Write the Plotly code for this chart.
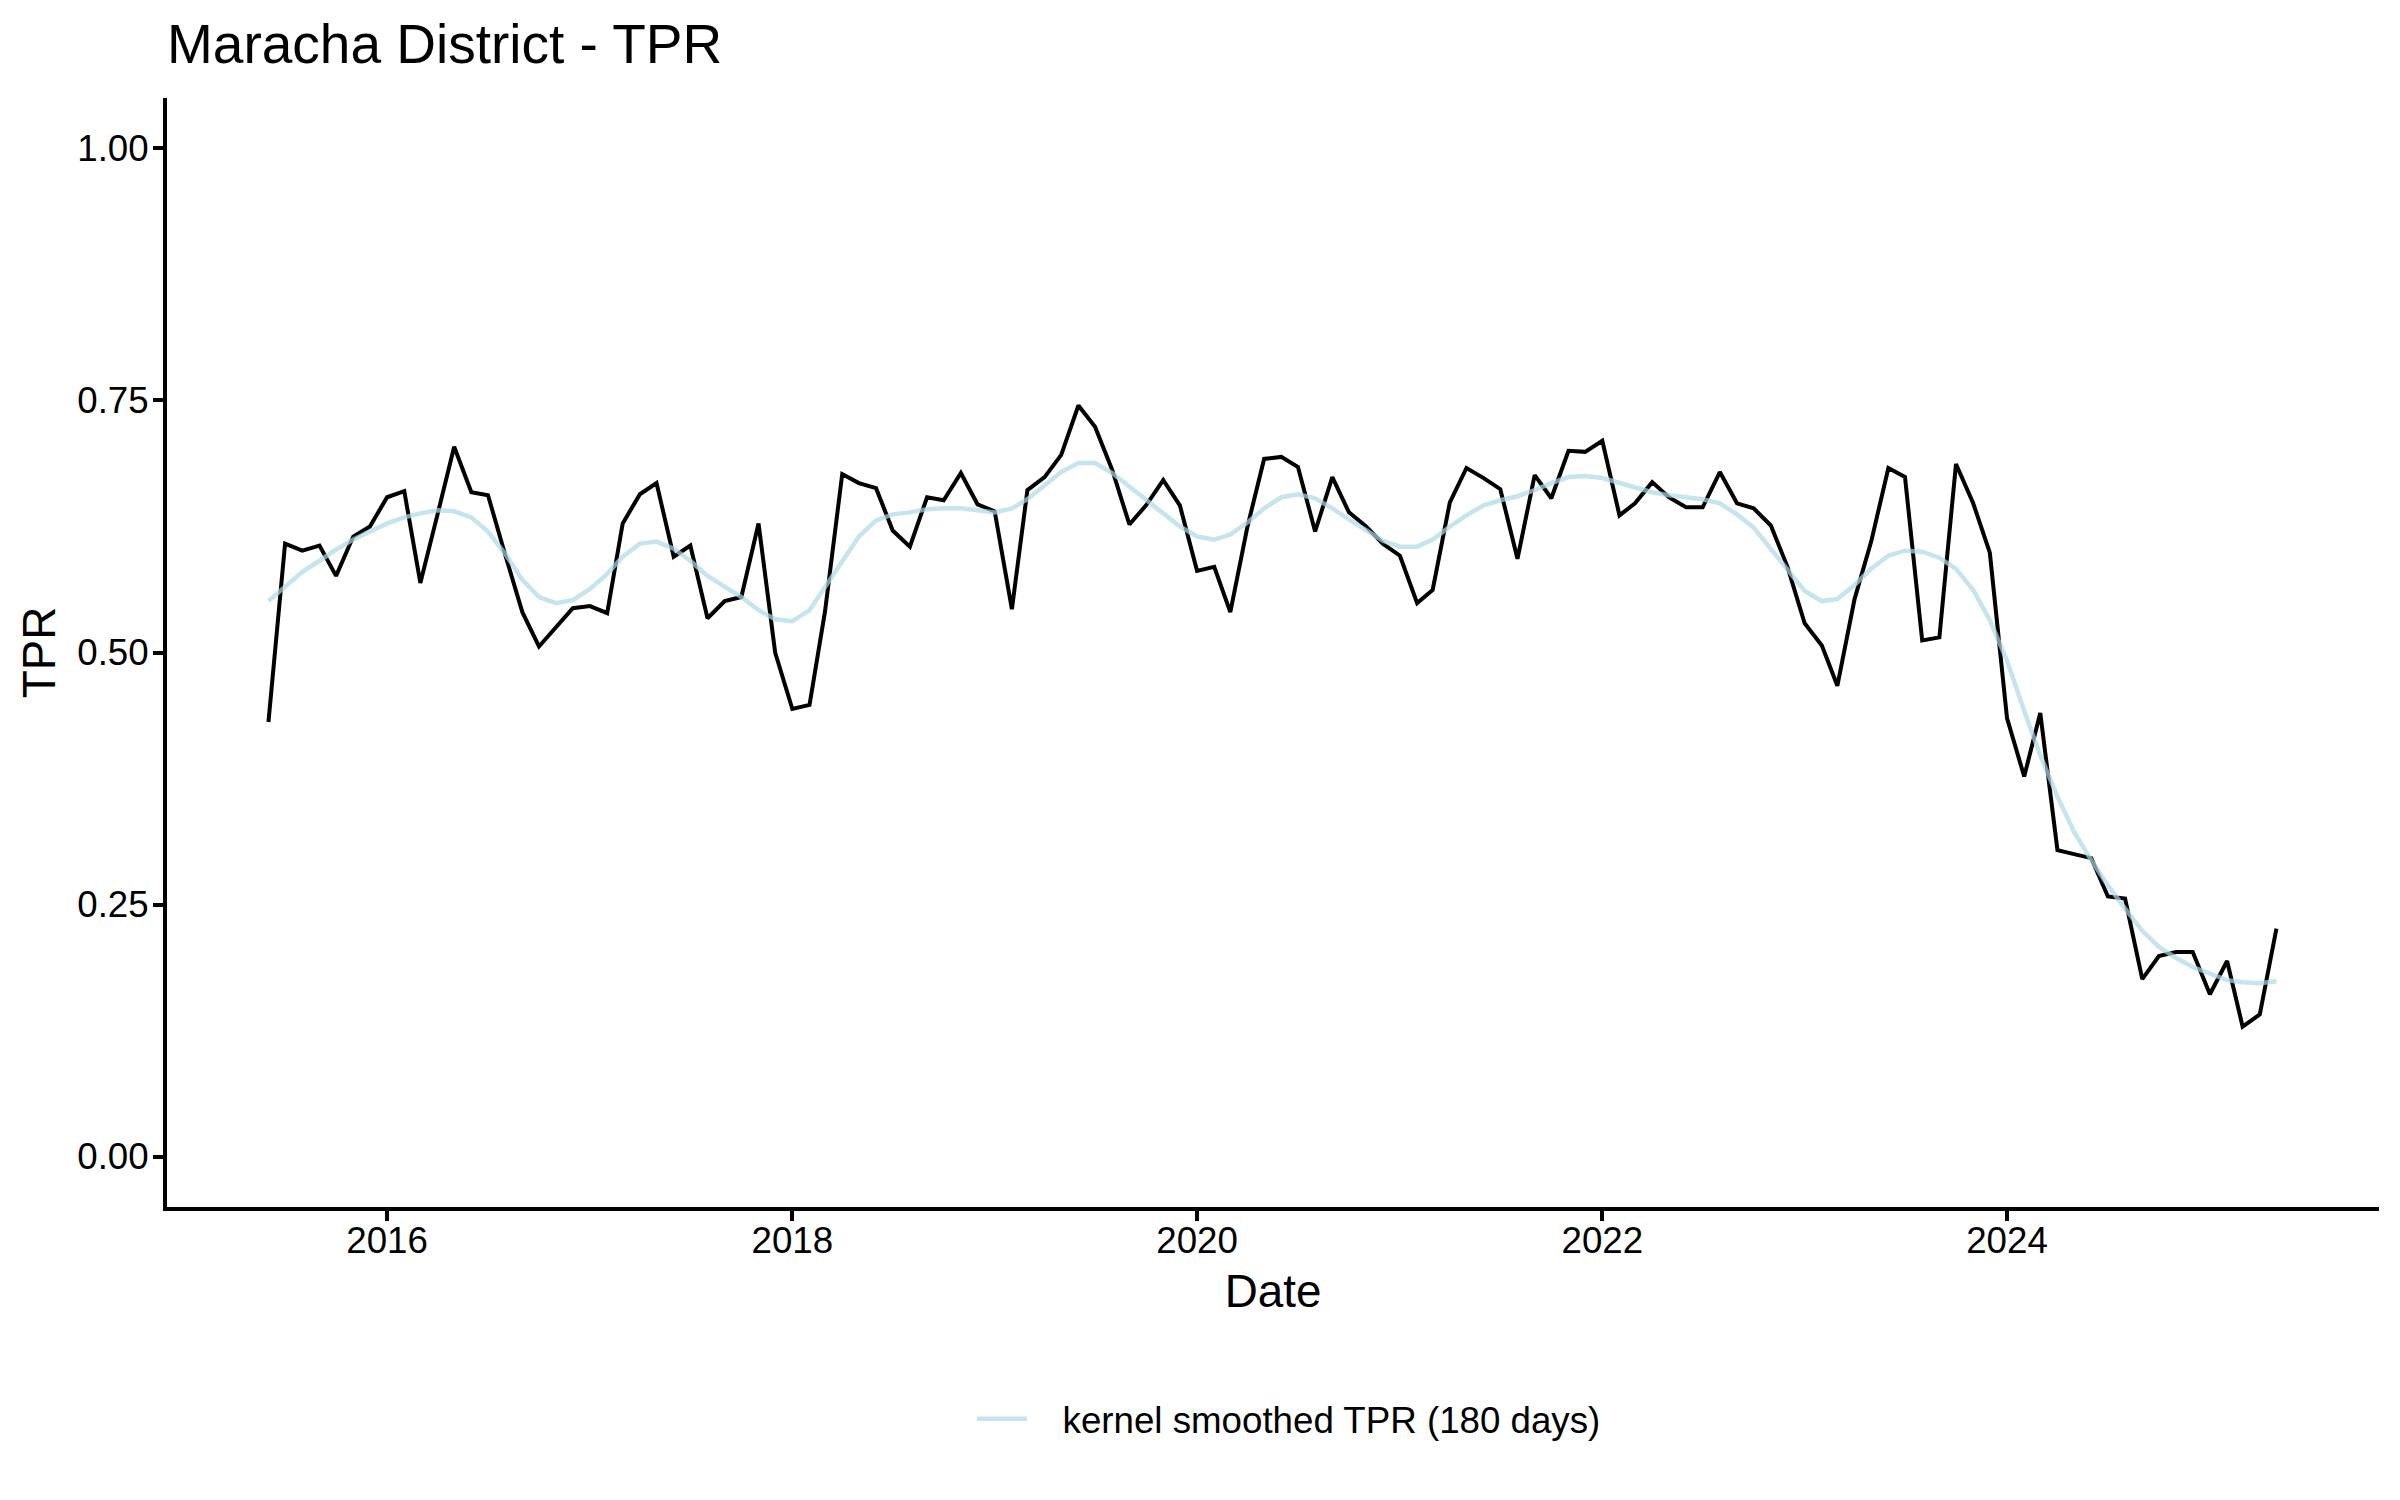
import pandas as pd
import plotly.graph_objects as go

# ---- data ----
start_month = "2015-06-01"
n_months = 120
dates = pd.date_range(start_month, periods=n_months, freq="MS")

tpr = [
    0.431, 0.608, 0.601, 0.606, 0.576, 0.615, 0.625, 0.654, 0.660, 0.569,
    0.637, 0.704, 0.659, 0.656, 0.597, 0.540, 0.506, 0.525, 0.544, 0.546,
    0.539, 0.628, 0.657, 0.668, 0.595, 0.606, 0.534, 0.551, 0.555, 0.628,
    0.500, 0.444, 0.448, 0.541, 0.677, 0.668, 0.663, 0.621, 0.605, 0.654,
    0.651, 0.678, 0.647, 0.640, 0.543, 0.661, 0.674, 0.696, 0.745, 0.724,
    0.681, 0.627, 0.646, 0.671, 0.646, 0.581, 0.585, 0.540, 0.625, 0.692,
    0.694, 0.684, 0.620, 0.674, 0.639, 0.625, 0.608, 0.596, 0.549, 0.562,
    0.649, 0.683, 0.673, 0.662, 0.593, 0.676, 0.653, 0.700, 0.699, 0.710,
    0.636, 0.648, 0.669, 0.654, 0.644, 0.644, 0.679, 0.648, 0.643, 0.626,
    0.585, 0.529, 0.507, 0.467, 0.553, 0.610, 0.683, 0.674, 0.512, 0.515,
    0.687, 0.648, 0.599, 0.435, 0.377, 0.440, 0.304, 0.300, 0.296, 0.258,
    0.256, 0.176, 0.199, 0.203, 0.203, 0.161, 0.194, 0.129, 0.141, 0.226,
]

tpr_smoothed = [
    0.551, 0.565, 0.580, 0.591, 0.602, 0.612, 0.620, 0.628, 0.634, 0.638,
    0.641, 0.640, 0.634, 0.620, 0.598, 0.572, 0.555, 0.549, 0.552, 0.563,
    0.578, 0.595, 0.608, 0.610, 0.603, 0.591, 0.576, 0.565, 0.555, 0.542,
    0.533, 0.531, 0.542, 0.565, 0.590, 0.615, 0.631, 0.637, 0.639, 0.642,
    0.643, 0.643, 0.641, 0.639, 0.643, 0.652, 0.666, 0.679, 0.688, 0.688,
    0.678, 0.665, 0.651, 0.638, 0.625, 0.615, 0.612, 0.617, 0.629, 0.643,
    0.654, 0.657, 0.653, 0.643, 0.632, 0.621, 0.611, 0.605, 0.605, 0.612,
    0.625, 0.636, 0.646, 0.651, 0.655, 0.661, 0.668, 0.674, 0.675, 0.673,
    0.668, 0.664, 0.659, 0.656, 0.654, 0.652, 0.648, 0.637, 0.624, 0.603,
    0.583, 0.561, 0.551, 0.553, 0.567, 0.583, 0.596, 0.601, 0.600, 0.594,
    0.583, 0.562, 0.532, 0.492, 0.442, 0.398, 0.357, 0.322, 0.294, 0.269,
    0.246, 0.224, 0.208, 0.197, 0.188, 0.181, 0.175, 0.173, 0.172, 0.174,
]

x_tick_years = [2016, 2018, 2020, 2022, 2024]
y_tick_values = [0.00, 0.25, 0.50, 0.75, 1.00]

title_text = "Maracha District - TPR"
x_title = "Date"
y_title = "TPR"
smooth_label = "kernel smoothed TPR (180 days)"

# ---- figure ----
FONT = "Liberation Sans, Arial, sans-serif"
GAP = "\u00a0\u00a0\u00a0"  # spacing between legend key and label

fig = go.Figure()
fig.add_trace(go.Scatter(
    x=dates, y=tpr, mode="lines",
    line=dict(color="black", width=4),
    showlegend=False, name="TPR",
))
fig.add_trace(go.Scatter(
    x=dates, y=tpr_smoothed, mode="lines",
    line=dict(color="rgba(173,216,230,0.7)", width=4.5),
    name=GAP + smooth_label,
))

fig.update_layout(
    width=2400, height=1500,
    paper_bgcolor="white", plot_bgcolor="white",
    margin=dict(l=167, r=21, t=98, b=293, autoexpand=False),
    font=dict(family=FONT, color="black", size=37),
    title=dict(
        text=title_text, font=dict(size=55, family=FONT, color="black"),
        xref="paper", x=0, xanchor="left",
        yref="container", y=1 - 44 / 1500, yanchor="middle",
    ),
    legend=dict(
        orientation="h",
        xref="container", x=972 / 2400, xanchor="left",
        yref="container", y=1 - 1419 / 1500, yanchor="middle",
        font=dict(size=36.7, family=FONT, color="black"),
        itemwidth=50,
        bgcolor="rgba(0,0,0,0)",
    ),
    showlegend=True,
)

fig.update_xaxes(
    type="date",
    range=["2014-11-30", "2025-11-02"],
    tickvals=[pd.Timestamp(f"{y}-01-01") for y in x_tick_years],
    ticktext=[str(y) for y in x_tick_years],
    showgrid=False, zeroline=False,
    showline=True, linecolor="black", linewidth=4,
    ticks="outside", ticklen=10, tickwidth=4, tickcolor="black",
    ticklabelstandoff=-12,
    tickfont=dict(size=36.7, family=FONT, color="black"),
    title=dict(text=x_title, font=dict(size=45.8, family=FONT, color="black"), standoff=16),
    automargin=False,
)
fig.update_yaxes(
    range=[-0.05, 1.05],
    tickvals=y_tick_values,
    tickformat=".2f",
    showgrid=False, zeroline=False,
    showline=True, linecolor="black", linewidth=4,
    ticks="outside", ticklen=10, tickwidth=4, tickcolor="black",
    ticklabelstandoff=-3,
    tickfont=dict(size=36.7, family=FONT, color="black"),
    title=dict(text=y_title, font=dict(size=45.8, family=FONT, color="black"), standoff=8),
    automargin=False,
)

fig.write_html(
    "out.html",
    config={"displayModeBar": False},
    post_script="document.body.style.margin='0';",
)
